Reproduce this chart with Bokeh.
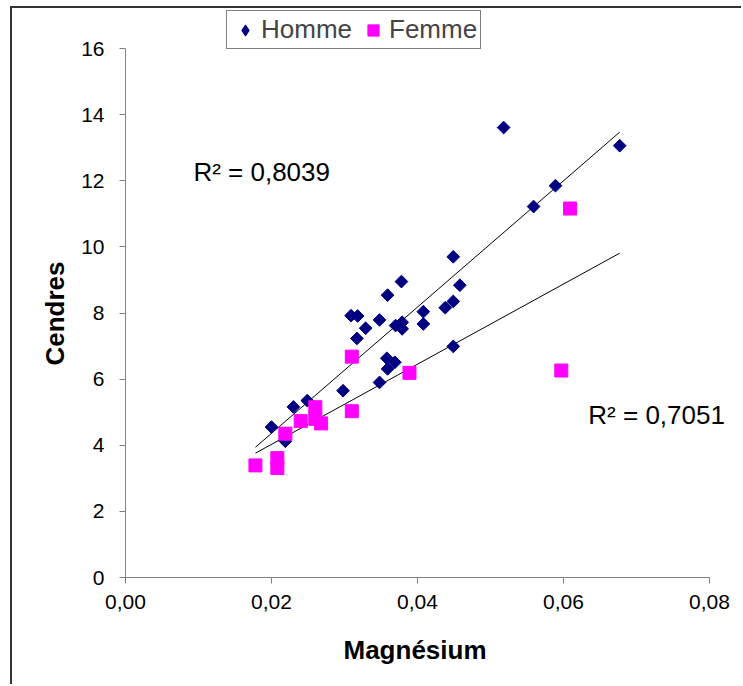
from bokeh.plotting import figure
from bokeh.models import FixedTicker, Legend, LegendItem, Label, Range1d, Title
from bokeh.embed import file_html
from bokeh.resources import INLINE
import numpy as np

# ---- data ----
homme_x = [0.0200, 0.0219, 0.0230, 0.0249, 0.0298, 0.0309, 0.0318, 0.0317, 0.0329, 0.0348,
           0.0348, 0.0358, 0.0359, 0.0359, 0.0369, 0.0370, 0.0378, 0.0379, 0.0379, 0.0408,
           0.0408, 0.0438, 0.0449, 0.0449, 0.0449, 0.0458, 0.0518, 0.0559, 0.0589, 0.0677]
homme_y = [4.55, 4.12, 5.16, 5.35, 5.65, 7.92, 7.91, 7.23, 7.54, 7.79,
           5.90, 6.63, 6.31, 8.54, 6.51, 7.62, 8.95, 7.72, 7.52, 8.04,
           7.67, 8.16, 8.35, 9.70, 6.99, 8.84, 13.61, 11.22, 11.85, 13.06]

femme_x = [0.0178, 0.0208, 0.0208, 0.0219, 0.0240, 0.0260, 0.0260, 0.0268,
           0.0310, 0.0310, 0.0389, 0.0597, 0.0609]
femme_y = [3.39, 3.61, 3.31, 4.35, 4.73, 5.15, 4.80, 4.66,
           6.68, 5.03, 6.19, 6.26, 11.16]

trend_x = [0.0178, 0.0677]
homme_trend = [3.94, 13.47]
femme_trend = [3.76, 9.81]

x_ticks = [0.0, 0.02, 0.04, 0.06, 0.08]
x_tick_labels = ["0,00", "0,02", "0,04", "0,06", "0,08"]
y_ticks = [0, 2, 4, 6, 8, 10, 12, 14, 16]
y_tick_labels = ["0", "2", "4", "6", "8", "10", "12", "14", "16"]

series_names = ["Homme", "Femme"]
r2_texts = ["R\u00b2 = 0,8039", "R\u00b2 = 0,7051"]
x_title = "Magnésium"
y_title = "Cendres"

FONT = "Liberation Sans"
AXIS_GRAY = "#808080"
NAVY = "#000080"
MAGENTA = "#FF00FF"

# frame covers the canvas to the right and top so that the legend and
# labels are not clipped; axes are bounded to the data range instead
W, H = 731, 678
LEFT, BOTTOM = 113, 109
X_END = 0.08 * (W - LEFT) / 584.0
Y_END = 16.0 * (H - BOTTOM) / 529.0

p = figure(width=W, height=H,
           x_range=Range1d(0, X_END), y_range=Range1d(0, Y_END),
           output_backend="svg", toolbar_location=None,
           min_border_left=LEFT, min_border_right=0,
           min_border_top=0, min_border_bottom=BOTTOM)
p.styles = {"border-left": "2px solid #333333", "border-top": "2px solid #333333",
            "margin-left": "10px", "margin-top": "6px"}

p.xgrid.visible = False
p.ygrid.visible = False
p.outline_line_color = None
p.background_fill_color = "white"
p.border_fill_color = "white"

# axes
p.xaxis.ticker = FixedTicker(ticks=x_ticks)
p.xaxis.major_label_overrides = dict(zip(x_ticks, x_tick_labels))
p.xaxis.bounds = (x_ticks[0], x_ticks[-1])
p.yaxis.ticker = FixedTicker(ticks=y_ticks)
p.yaxis.major_label_overrides = dict(zip(y_ticks, y_tick_labels))
p.yaxis.bounds = (y_ticks[0], y_ticks[-1])

for ax in (p.xaxis, p.yaxis):
    ax.axis_line_color = AXIS_GRAY
    ax.axis_line_width = 1
    ax.major_tick_line_color = AXIS_GRAY
    ax.major_tick_out = 6
    ax.major_tick_in = 0
    ax.minor_tick_out = 0
    ax.minor_tick_in = 0
    ax.major_label_text_font = FONT
    ax.major_label_text_font_size = "21px"
    ax.major_label_text_color = "black"

p.xaxis.major_label_standoff = 11
p.yaxis.major_label_standoff = 15

# axis titles as Titles so that they can be placed along the bounded axes
p.add_layout(Title(text=x_title, align="left", offset=218, standoff=43,
                   text_font=FONT, text_font_size="26px", text_font_style="bold",
                   text_color="black"), "below")
p.add_layout(Title(text=y_title, align="left", offset=212, standoff=17,
                   text_font=FONT, text_font_size="26px", text_font_style="bold",
                   text_color="black"), "left")

# trend lines
p.line(trend_x, homme_trend, line_color="black", line_width=1)
p.line(trend_x, femme_trend, line_color="black", line_width=1)

# points: a diamond-marker copy of the men's series (hidden beneath the
# rotated squares) supplies the legend symbol
r_h_leg = p.scatter(homme_x, homme_y, marker="diamond", size=8,
                    fill_color=NAVY, line_color=NAVY)
r_h = p.scatter(homme_x, homme_y, marker="square", size=9, angle=np.pi / 4,
                fill_color=NAVY, line_color=NAVY)
r_f = p.scatter(femme_x, femme_y, marker="square", size=13,
                fill_color=MAGENTA, line_color=MAGENTA)

legend = Legend(items=[LegendItem(label=series_names[0], renderers=[r_h_leg]),
                       LegendItem(label=series_names[1], renderers=[r_f])],
                orientation="horizontal", location=(101, 528),
                border_line_color="black", border_line_width=1,
                background_fill_color="white", background_fill_alpha=1,
                label_text_font=FONT, label_text_font_size="26px",
                padding=3, spacing=6, label_standoff=1,
                glyph_width=30, glyph_height=28, margin=0)
p.add_layout(legend)

p.add_layout(Label(x=0.0093, y=12.25, text=r2_texts[0], text_baseline="middle",
                   text_font=FONT, text_font_size="26px", text_color="black"))
p.add_layout(Label(x=0.0634, y=4.90, text=r2_texts[1], text_baseline="middle",
                   text_font=FONT, text_font_size="26px", text_color="black"))

open("out.html", "w").write(file_html(p, INLINE))
